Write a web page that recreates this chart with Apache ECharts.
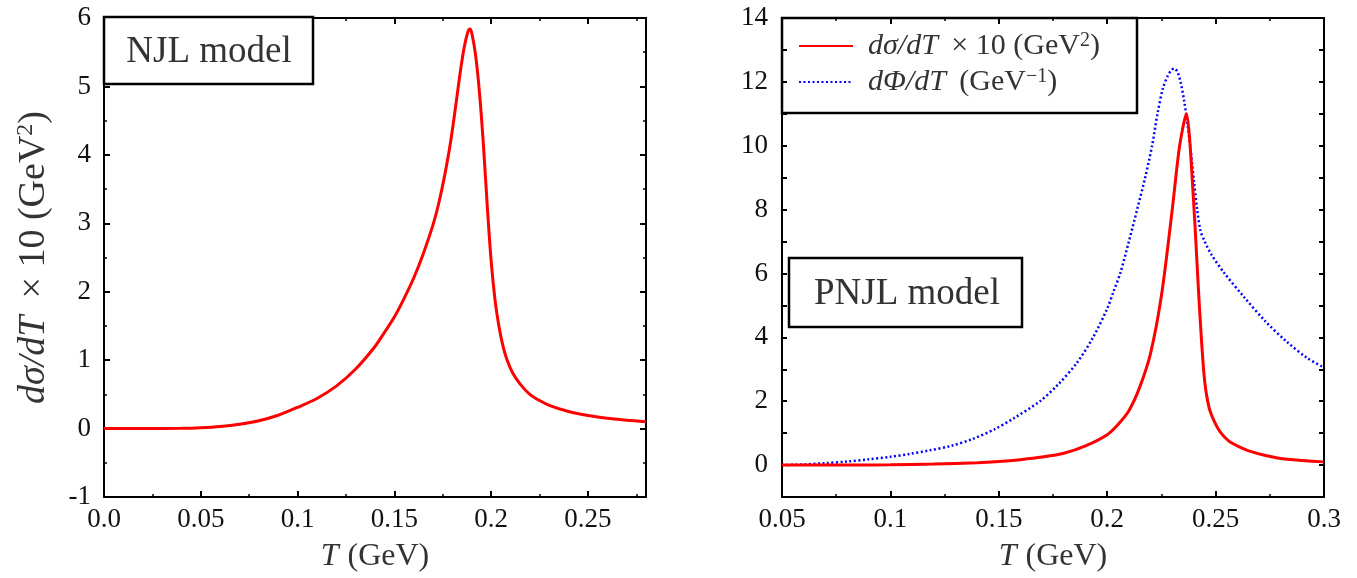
<!DOCTYPE html>
<html>
<head>
<meta charset="utf-8">
<script src="https://cdn.jsdelivr.net/npm/echarts@6/dist/echarts.min.js"></script>
<style>html,body{margin:0;padding:0;background:#fff}#c{width:1357px;height:578px}</style>
</head>
<body>
<div id="c"></div>
<script>
// Left panel (NJL model)
const njlT = [0, 0.02, 0.04, 0.05, 0.06, 0.07, 0.08, 0.09, 0.10, 0.11, 0.12, 0.13, 0.14, 0.145, 0.15, 0.155, 0.16, 0.165, 0.17, 0.173, 0.176, 0.179, 0.182, 0.184, 0.186, 0.188, 0.189, 0.19, 0.192, 0.194, 0.196, 0.198, 0.20, 0.202, 0.204, 0.206, 0.208, 0.211, 0.215, 0.22, 0.225, 0.23, 0.24, 0.25, 0.26, 0.27, 0.28];
const njlSigma = [0, 0, 0.003, 0.012, 0.03, 0.063, 0.115, 0.195, 0.31, 0.44, 0.62, 0.87, 1.2, 1.41, 1.63, 1.9, 2.2, 2.56, 2.98, 3.3, 3.7, 4.18, 4.78, 5.2, 5.56, 5.8, 5.84, 5.78, 5.45, 4.9, 4.15, 3.25, 2.45, 1.88, 1.5, 1.22, 1.02, 0.82, 0.65, 0.5, 0.41, 0.34, 0.25, 0.19, 0.15, 0.12, 0.1];

// Right panel (PNJL model)
const pnjlSigmaT = [0.05, 0.08, 0.10, 0.12, 0.14, 0.15, 0.16, 0.17, 0.18, 0.19, 0.2, 0.205, 0.21, 0.215, 0.22, 0.225, 0.23, 0.233, 0.235, 0.2365, 0.2378, 0.239, 0.2405, 0.242, 0.2435, 0.245, 0.247, 0.2495, 0.252, 0.256, 0.26, 0.265, 0.273, 0.283, 0.30];
const pnjlSigma = [0, 0.003, 0.01, 0.03, 0.07, 0.11, 0.17, 0.25, 0.37, 0.6, 0.95, 1.27, 1.7, 2.44, 3.5, 5.3, 8.0, 9.8, 10.6, 11.0, 10.4, 9.2, 7.5, 5.6, 3.9, 2.6, 1.8, 1.35, 1.05, 0.76, 0.6, 0.45, 0.3, 0.18, 0.1];

const pnjlPhiT = [0.05, 0.06, 0.07, 0.08, 0.09, 0.10, 0.109, 0.118, 0.128, 0.138, 0.148, 0.157, 0.169, 0.177, 0.186, 0.1935, 0.2, 0.203, 0.206, 0.21, 0.2138, 0.2175, 0.2207, 0.2232, 0.2257, 0.228, 0.2298, 0.231, 0.2325, 0.234, 0.2355, 0.237, 0.2385, 0.24, 0.2415, 0.243, 0.245, 0.248, 0.2537, 0.2634, 0.273, 0.2827, 0.2923, 0.30];
const pnjlPhi = [0, 0.02, 0.06, 0.11, 0.18, 0.26, 0.35, 0.46, 0.6, 0.82, 1.12, 1.47, 2.0, 2.5, 3.2, 4.0, 4.9, 5.45, 6.0, 7.0, 8.0, 9.0, 10.0, 11.0, 11.8, 12.2, 12.38, 12.42, 12.3, 11.95, 11.4, 10.7, 9.85, 8.9, 8.0, 7.35, 7.0, 6.6, 6.04, 5.24, 4.5, 3.87, 3.35, 3.06];

// Tick settings
const njlXTicks = {min: 0, max: 0.28, interval: 0.05};
const njlYTicks = {min: -1, max: 6, interval: 1};
const pnjlXTicks = {min: 0.05, max: 0.3, interval: 0.05};
const pnjlYTicks = {min: -1, max: 14, interval: 1};

const FONT = '"Liberation Serif", "DejaVu Serif", serif';
const TXT = '#333';

function pairs(xs, ys) { return xs.map((x, i) => [x, ys[i]]); }

function axisBase(t, pos, showLabel, fmt) {
  return {
    type: 'value', min: t.min, max: t.max, interval: t.interval, position: pos,
    axisLine: {show: true, onZero: false, lineStyle: {color: '#000', width: 2}},
    axisTick: {show: true, inside: true, length: 6, lineStyle: {color: '#000', width: 2}},
    minorTick: {show: true, splitNumber: 2, length: 3, lineStyle: {color: '#000', width: 1.5}},
    splitLine: {show: false},
    axisLabel: {show: showLabel, showMaxLabel: true, color: '#111', fontFamily: FONT, fontSize: 27, formatter: fmt}
  };
}

const xFmt = v => v === 0 ? '0.0' : String(+v.toFixed(3));
const richName = {
  i: {fontFamily: FONT, fontStyle: 'italic', color: TXT},
  n: {fontFamily: FONT, color: TXT},
  s: {fontFamily: FONT, color: TXT, verticalAlign: 'top'}
};

const xAxes = [];
const yAxes = [];
// left panel
let a = axisBase(njlXTicks, 'bottom', true, xFmt);
a.gridIndex = 0; a.axisLabel.showMaxLabel = false; a.axisLabel.margin = 9;
a.name = '{i|T} {n|(GeV)}'; a.nameLocation = 'middle'; a.nameGap = 44;
a.nameTextStyle = {fontSize: 32, rich: {i: Object.assign({}, richName.i, {fontSize: 32}), n: Object.assign({}, richName.n, {fontSize: 32})}};
xAxes.push(a);
a = axisBase(njlXTicks, 'top', false); a.gridIndex = 0; xAxes.push(a);
a = axisBase(njlYTicks, 'left', true, v => String(v));
a.gridIndex = 0; a.axisLabel.margin = 13;
a.name = '{i|dσ/dT}{n| \u2009× 10 (GeV}{s|2}{n|)}'; a.nameLocation = 'middle'; a.nameGap = 50;
a.nameTextStyle = {fontSize: 38, rich: {
  i: Object.assign({}, richName.i, {fontSize: 38, lineHeight: 40}),
  n: Object.assign({}, richName.n, {fontSize: 38, lineHeight: 40}),
  s: Object.assign({}, richName.s, {fontSize: 24, lineHeight: 24})}};
yAxes.push(a);
a = axisBase(njlYTicks, 'right', false); a.gridIndex = 0; yAxes.push(a);
// right panel
a = axisBase(pnjlXTicks, 'bottom', true, xFmt);
a.gridIndex = 1; a.axisLabel.margin = 9;
a.name = '{i|T} {n|(GeV)}'; a.nameLocation = 'middle'; a.nameGap = 44;
a.nameTextStyle = {fontSize: 32, rich: {i: Object.assign({}, richName.i, {fontSize: 32}), n: Object.assign({}, richName.n, {fontSize: 32})}};
xAxes.push(a);
a = axisBase(pnjlXTicks, 'top', false); a.gridIndex = 1; xAxes.push(a);
a = axisBase(pnjlYTicks, 'left', true, v => (v >= 0 && v % 2 === 0) ? String(v) : '');
a.gridIndex = 1; a.axisLabel.margin = 14; a.minorTick.show = false; a.axisTick.length = 5;
yAxes.push(a);
a = axisBase(pnjlYTicks, 'right', false); a.gridIndex = 1; a.minorTick.show = false; a.axisTick.length = 5; yAxes.push(a);

const legendRich = {
  i: {fontFamily: FONT, fontStyle: 'italic', fontSize: 30, color: TXT, lineHeight: 30},
  n: {fontFamily: FONT, fontSize: 30, color: TXT, lineHeight: 30},
  s: {fontFamily: FONT, fontSize: 20, color: TXT, lineHeight: 20, verticalAlign: 'top'}
};

const option = {
  animation: false,
  backgroundColor: '#fff',
  grid: [
    {left: 104, top: 18, width: 542, height: 480},
    {left: 782, top: 18, width: 542, height: 480}
  ],
  xAxis: xAxes,
  yAxis: yAxes,
  legend: {
    orient: 'vertical', left: 798, top: 31, padding: 0, itemGap: 6,
    itemWidth: 54, itemHeight: 14,
    data: ['sigma', 'phi'],
    itemStyle: {opacity: 0},
    textStyle: {rich: legendRich, padding: [0, 0, 0, 10]},
    formatter: function (name) {
      return name === 'sigma'
        ? '{i|dσ/dT}{n| \u2009× 10 (GeV}{s|2}{n|)}'
        : '{i|dΦ/dT}{n| \u2009(GeV}{s|−1}{n|)}';
    }
  },
  graphic: [
    {type: 'rect', z: 100, shape: {x: 104, y: 17, width: 209, height: 67}, style: {fill: '#fff', stroke: '#000', lineWidth: 2.5}},
    {type: 'text', z: 101, x: 209, y: 52, style: {text: 'NJL model', font: '37px ' + FONT, fill: TXT, align: 'center', verticalAlign: 'middle'}},
    {type: 'rect', z: 100, shape: {x: 789, y: 258, width: 233, height: 69}, style: {fill: '#fff', stroke: '#000', lineWidth: 2.5}},
    {type: 'text', z: 101, x: 907, y: 294, style: {text: 'PNJL model', font: '37px ' + FONT, fill: TXT, align: 'center', verticalAlign: 'middle'}},
    {type: 'rect', z: 0, shape: {x: 782, y: 18, width: 355, height: 95}, style: {fill: '#fff', stroke: '#000', lineWidth: 2.5}}
  ],
  series: [
    {name: 'njl', type: 'line', xAxisIndex: 0, yAxisIndex: 0, data: pairs(njlT, njlSigma), symbol: 'none', smooth: 0.3, lineStyle: {color: '#ff0000', width: 3}, z: 5},
    {name: 'phi', type: 'line', xAxisIndex: 2, yAxisIndex: 2, data: pairs(pnjlPhiT, pnjlPhi), symbol: 'none', smooth: 0.3, itemStyle: {color: '#0000ff'}, lineStyle: {color: '#0000ff', width: 2.5, type: [2, 2.5]}, z: 4},
    {name: 'sigma', type: 'line', xAxisIndex: 2, yAxisIndex: 2, data: pairs(pnjlSigmaT, pnjlSigma), symbol: 'none', smooth: 0.3, itemStyle: {color: '#ff0000'}, lineStyle: {color: '#ff0000', width: 3}, z: 5}
  ]
};
const chart = echarts.init(document.getElementById('c'), null, {renderer: 'canvas'});
chart.setOption(option);
</script>
</body>
</html>
